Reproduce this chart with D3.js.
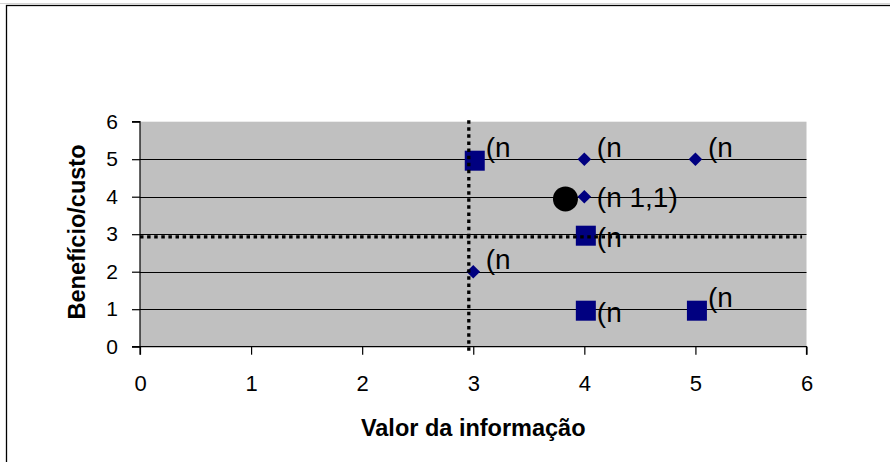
<!DOCTYPE html>
<html>
<head>
<meta charset="utf-8">
<script src="https://cdn.jsdelivr.net/npm/d3@7"></script>
<style>
  html, body { margin: 0; padding: 0; background: #fff; }
  svg { display: block; font-family: "Liberation Sans", Arial, sans-serif; }
</style>
</head>
<body>
<svg id="chart" width="890" height="462"></svg>
<script>
// ---- data ----
const xTicks = [0, 1, 2, 3, 4, 5, 6];
const yTicks = [0, 1, 2, 3, 4, 5, 6];
const gridYs = [1, 2, 3, 4, 5];

const squareX = [3, 4, 4, 5];
const squareY = [5, 3, 1, 1];
const squareLabels = ["(n", "(n", "(n", "(n"];
const squareLabelPlace = ["above", "below", "below", "above"];

const diamondX = [4, 5, 4, 3];
const diamondY = [5, 5, 4, 2];
const diamondLabels = ["(n", "(n", "(n 1,1)", "(n"];
const diamondLabelPlace = ["above", "above", "right", "above"];

const circleX = [3.83];
const circleY = [3.94];

const vLineX = [2.96, 2.96];
const vLineY = [-0.11, 6.13];
const hLineX = [0, 5.96];
const hLineY = [2.93, 2.93];

const xTitle = "Valor da informação";
const yTitle = "Benefício/custo";

// ---- layout ----
const svg = d3.select("#chart");
const plot = { left: 140, right: 806.5, top: 121.7, bottom: 346.7 };
const x = d3.scaleLinear().domain([0, 6]).range([plot.left, plot.right]);
const y = d3.scaleLinear().domain([0, 6]).range([plot.bottom, plot.top]);

// outer frame
svg.append("line").attr("x1", 0).attr("x2", 890).attr("y1", 3.5).attr("y2", 3.5)
  .attr("stroke", "#d4d4d4").attr("stroke-width", 1);
svg.append("rect").attr("x", 6.5).attr("y", 5.5).attr("width", 900).attr("height", 500)
  .attr("fill", "none").attr("stroke", "#000").attr("stroke-width", 1.3);

// plot background
svg.append("rect")
  .attr("x", plot.left).attr("y", plot.top)
  .attr("width", plot.right - plot.left).attr("height", plot.bottom - plot.top)
  .attr("fill", "#C0C0C0");

// gridlines
svg.append("g").selectAll("line").data(gridYs).join("line")
  .attr("x1", plot.left).attr("x2", plot.right)
  .attr("y1", d => Math.round(y(d)) + 0.5).attr("y2", d => Math.round(y(d)) + 0.5)
  .attr("stroke", "#000").attr("stroke-width", 1);

// axes
const yAxis = d3.axisLeft(y).tickValues(yTicks).tickSize(8).tickPadding(14).tickFormat(d3.format("d"));
const xAxis = d3.axisBottom(x).tickValues(xTicks).tickSize(8).tickPadding(21).tickFormat(d3.format("d"));

const gy = svg.append("g").attr("transform", `translate(${plot.left},0)`).call(yAxis);
const gx = svg.append("g").attr("transform", `translate(0,${plot.bottom})`).call(xAxis);
[gx, gy].forEach(g => {
  g.select(".domain").attr("stroke", "#000").attr("stroke-width", 1.2);
  g.selectAll(".tick line").attr("stroke", "#000").attr("stroke-width", 1.2);
  g.selectAll(".tick text").attr("fill", "#000").style("font-family", '"Liberation Sans", Arial, sans-serif');
});
gy.select(".domain").attr("d", `M-8,${plot.top}H0V${plot.bottom}H-8`);
gx.select(".domain").attr("d", `M${plot.left},8V0H${plot.right}V8`);
gx.selectAll(".tick text").style("font-size", "22px");
gy.selectAll(".tick text").style("font-size", "21px");

// markers
const navy = "#000080";
const squares = squareX.map((v, i) => ({ x: v, y: squareY[i], label: squareLabels[i], place: squareLabelPlace[i] }));
const diamonds = diamondX.map((v, i) => ({ x: v, y: diamondY[i], label: diamondLabels[i], place: diamondLabelPlace[i] }));
const circles = circleX.map((v, i) => ({ x: v, y: circleY[i] }));

svg.append("g").selectAll("rect").data(squares).join("rect")
  .attr("x", d => x(d.x) - 10 + 1.5).attr("y", d => y(d.y) - 10 + 1.5)
  .attr("width", 20).attr("height", 20).attr("fill", navy);

svg.append("g").selectAll("path").data(diamonds).join("path")
  .attr("d", d => {
    const cx = x(d.x), cy = y(d.y), r = 6.8;
    return `M${cx},${cy - r}L${cx + r},${cy}L${cx},${cy + r}L${cx - r},${cy}Z`;
  })
  .attr("fill", navy);

svg.append("g").selectAll("circle").data(circles).join("circle")
  .attr("cx", d => x(d.x)).attr("cy", d => y(d.y)).attr("r", 12.5).attr("fill", "#000");

// dotted reference lines (drawn over markers)
const line = d3.line().x(d => x(d[0])).y(d => y(d[1]));
svg.append("path").attr("d", line(vLineX.map((v, i) => [v, vLineY[i]])))
  .attr("stroke", "#000").attr("stroke-width", 3.3).attr("stroke-dasharray", "3.5,3.6").attr("fill", "none");
svg.append("path").attr("d", line(hLineX.map((v, i) => [v, hLineY[i]])))
  .attr("stroke", "#000").attr("stroke-width", 3.3).attr("stroke-dasharray", "3.5,3.6").attr("fill", "none");

// data labels
const placeDy = { above: -2.5, right: 10, below: 13 };
svg.append("g").selectAll("text").data(squares.concat(diamonds)).join("text")
  .attr("x", d => x(d.x) + 12.5)
  .attr("y", d => y(d.y) + placeDy[d.place])
  .style("font-size", "28px")
  .attr("fill", "#000")
  .text(d => d.label);

// titles
svg.append("text")
  .attr("x", (plot.left + plot.right) / 2).attr("y", 436)
  .attr("text-anchor", "middle")
  .style("font-size", "23.5px").style("font-weight", "bold")
  .text(xTitle);

svg.append("text")
  .attr("transform", `translate(85,232) rotate(-90)`)
  .attr("text-anchor", "middle")
  .style("font-size", "23.5px").style("font-weight", "bold")
  .text(yTitle);
</script>
</body>
</html>
